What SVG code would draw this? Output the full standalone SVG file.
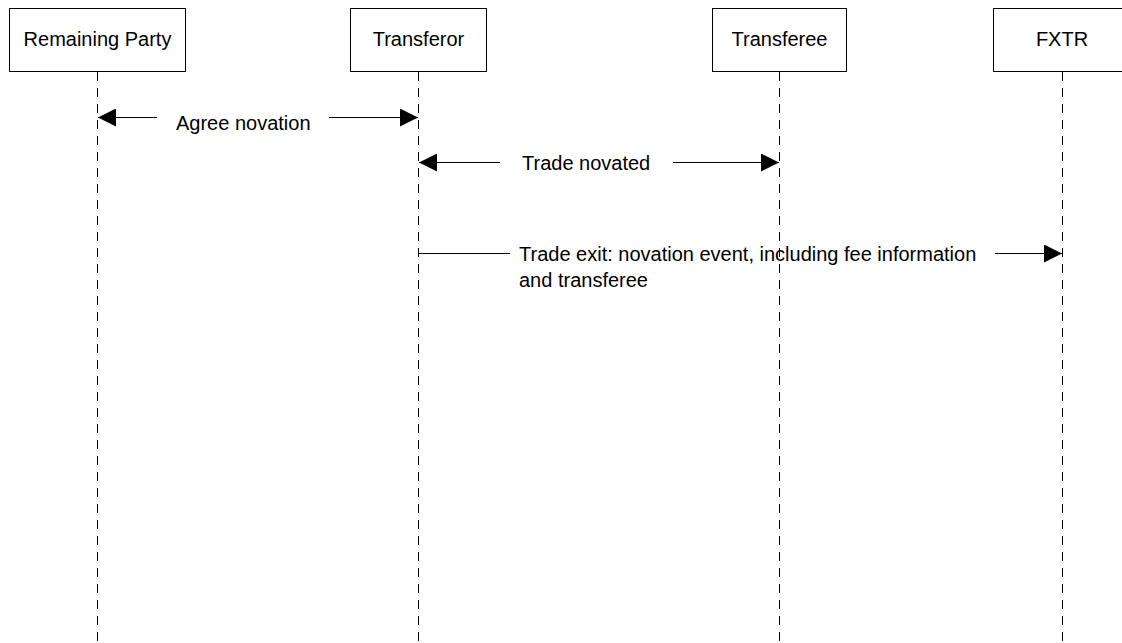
<svg xmlns="http://www.w3.org/2000/svg" width="1122" height="643" viewBox="0 0 1122 643">
<style>
.box{fill:#fff;stroke:#000;stroke-width:1}
.life{stroke:#000;stroke-width:1;stroke-dasharray:9 7;fill:none}
.msg{stroke:#000;stroke-width:1;fill:none}
text{font-family:"Liberation Sans",Arial,sans-serif;font-size:20px;fill:#000}
.c{text-anchor:middle}
</style>
<defs>
<marker id="ah" viewBox="0 0 18 18" refX="18" refY="9" markerWidth="18" markerHeight="18" markerUnits="userSpaceOnUse" orient="auto-start-reverse">
<path d="M0,0 L18,9 L0,18 Z" fill="#000"/>
</marker>
</defs>
<rect width="1122" height="643" fill="#fff"/>
<g id="lifelines">
<line class="life" x1="97.5" y1="72" x2="97.5" y2="643"/>
<line class="life" x1="418.5" y1="72" x2="418.5" y2="643"/>
<line class="life" x1="779.5" y1="72" x2="779.5" y2="643"/>
<line class="life" x1="1062.5" y1="72" x2="1062.5" y2="643"/>
</g>
<g id="node-remaining-party">
<rect class="box" x="9.5" y="8.5" width="176" height="63"/>
<text class="c" x="97.5" y="46">Remaining Party</text>
</g>
<g id="node-transferor">
<rect class="box" x="350.5" y="8.5" width="136" height="63"/>
<text class="c" x="418.5" y="46">Transferor</text>
</g>
<g id="node-transferee">
<rect class="box" x="712.5" y="8.5" width="134" height="63"/>
<text class="c" x="779.5" y="46">Transferee</text>
</g>
<g id="node-fxtr">
<rect class="box" x="993.5" y="8.5" width="138" height="63"/>
<text class="c" x="1062" y="46">FXTR</text>
</g>
<g id="connectors">
<line class="msg" x1="157" y1="117.5" x2="98" y2="117.5" marker-end="url(#ah)"/>
<line class="msg" x1="329" y1="117.5" x2="418" y2="117.5" marker-end="url(#ah)"/>
<text x="176" y="130">Agree novation</text>
<line class="msg" x1="500" y1="162.5" x2="419" y2="162.5" marker-end="url(#ah)"/>
<line class="msg" x1="673" y1="162.5" x2="779" y2="162.5" marker-end="url(#ah)"/>
<text x="522" y="170">Trade novated</text>
<line class="msg" x1="419" y1="253.5" x2="510" y2="253.5"/>
<line class="msg" x1="995" y1="253.5" x2="1062" y2="253.5" marker-end="url(#ah)"/>
<text x="519" y="261">Trade exit: novation event, including fee information</text>
<text x="519" y="287">and transferee</text>
</g>
</svg>
